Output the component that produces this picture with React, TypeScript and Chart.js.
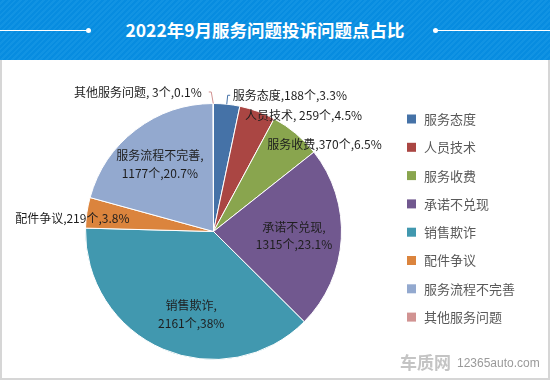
import React, { useEffect, useRef } from 'react';
import { Chart, registerables } from 'chart.js';

Chart.register(...registerables);

const title = '2022年9月服务问题投诉问题点占比';
const categories = ['服务态度', '人员技术', '服务收费', '承诺不兑现', '销售欺诈', '配件争议', '服务流程不完善', '其他服务问题'];
const counts = [188, 259, 370, 1315, 2161, 219, 1177, 3];
const percentLabels = ['3.3%', '4.5%', '6.5%', '23.1%', '38%', '3.8%', '20.7%', '0.1%'];
const colors = ['#4572A7', '#AA4643', '#89A54E', '#71588F', '#4198AF', '#DB843D', '#93A9CF', '#D19392'];

type Placement = {
  kind: 'inside' | 'outside' | 'leader';
  f: number;
  dx: number;
  dy: number;
  align: CanvasTextAlign;
  sep: string;
  gap: number;
};

const placements: Placement[] = [
  { kind: 'leader', f: 1.07, dx: 0, dy: 0, align: 'left', sep: ',', gap: 2.5 },
  { kind: 'outside', f: 1, dx: -12.4, dy: 4.2, align: 'left', sep: ', ', gap: 0 },
  { kind: 'outside', f: 1, dx: -28.4, dy: 11.2, align: 'left', sep: ',', gap: 0 },
  { kind: 'inside', f: 0.63, dx: 0, dy: 0, align: 'center', sep: ',', gap: 0 },
  { kind: 'inside', f: 0.67, dx: 11.5, dy: 4, align: 'center', sep: ',', gap: 0 },
  { kind: 'outside', f: 1, dx: 42.6, dy: 6.1, align: 'right', sep: ',', gap: 0 },
  { kind: 'inside', f: 0.67, dx: -1.6, dy: 1.3, align: 'center', sep: ',', gap: 0 },
  { kind: 'leader', f: 1.09, dx: -2, dy: 0, align: 'right', sep: ', ', gap: 7 },
];

const FONT = '"Noto Sans CJK SC", "Noto Sans", sans-serif';

const labelPlugin = {
  id: 'sliceLabels',
  afterDatasetsDraw(chart: any) {
    const ctx: CanvasRenderingContext2D = chart.ctx;
    const meta = chart.getDatasetMeta(0);
    ctx.save();
    ctx.font = `12px ${FONT}`;
    ctx.fillStyle = '#1e1e1e';
    ctx.textBaseline = 'middle';
    meta.data.forEach((arc: any, i: number) => {
      const p = placements[i];
      const { x, y, startAngle, endAngle, outerRadius } = arc.getProps(['x', 'y', 'startAngle', 'endAngle', 'outerRadius'], true);
      const mid = (startAngle + endAngle) / 2;
      const c = Math.cos(mid);
      const s = Math.sin(mid);
      if (p.kind === 'inside') {
        const px = x + c * outerRadius * p.f + p.dx;
        const py = y + s * outerRadius * p.f + p.dy;
        ctx.textAlign = 'center';
        ctx.fillText(categories[i] + ',', px, py - 8.75);
        ctx.fillText(`${counts[i]}个,${percentLabels[i]}`, px, py + 8.75);
      } else if (p.kind === 'outside') {
        const px = x + c * outerRadius * p.f + p.dx;
        const py = y + s * outerRadius * p.f + p.dy;
        ctx.textAlign = p.align;
        ctx.fillText(`${categories[i]}${p.sep}${counts[i]}个,${percentLabels[i]}`, px, py);
      } else {
        const sx = x + c * outerRadius;
        const sy = y + s * outerRadius;
        const ex = x + c * outerRadius * p.f + p.dx;
        const ey = y + s * outerRadius * p.f + p.dy;
        const dir = p.align === 'left' ? 1 : -1;
        const hx = ex + dir * 2.5;
        ctx.strokeStyle = colors[i];
        ctx.lineWidth = 1;
        ctx.beginPath();
        ctx.moveTo(sx, sy);
        ctx.lineTo(ex, ey);
        ctx.lineTo(hx, ey);
        ctx.stroke();
        ctx.textAlign = p.align;
        ctx.fillText(`${categories[i]}${p.sep}${counts[i]}个,${percentLabels[i]}`, hx + dir * p.gap, ey);
      }
    });
    ctx.restore();
  },
};

const legendPlugin = {
  id: 'sideLegend',
  afterDraw(chart: any) {
    const ctx: CanvasRenderingContext2D = chart.ctx;
    ctx.save();
    ctx.font = `13px ${FONT}`;
    ctx.textBaseline = 'middle';
    ctx.textAlign = 'left';
    categories.forEach((name, i) => {
      const cy = 59 + i * 28.3;
      ctx.fillStyle = colors[i];
      ctx.fillRect(407, cy - 4.5, 9, 9);
      ctx.fillStyle = '#595959';
      ctx.fillText(name, 424, cy);
    });
    // watermark
    ctx.font = `bold 17px ${FONT}`;
    ctx.fillStyle = '#c4c4c4';
    ctx.fillText('车质网', 400, 303);
    ctx.font = '12px "Liberation Sans", Arial, sans-serif';
    ctx.fillStyle = '#9a9a9a';
    ctx.fillText('12365auto.com', 457, 304);
    ctx.restore();
  },
};

export default function App() {
  const ref = useRef<HTMLCanvasElement | null>(null);

  useEffect(() => {
    if (!ref.current) return;
    const chart = new Chart(ref.current, {
      type: 'pie',
      data: {
        labels: categories,
        datasets: [
          {
            data: counts,
            backgroundColor: colors,
            borderColor: '#ffffff',
            borderWidth: 1,
          },
        ],
      },
      options: {
        responsive: false,
        animation: false,
        layout: { padding: { left: 85, right: 208, top: 43, bottom: 20 } },
        plugins: {
          legend: { display: false },
          tooltip: { enabled: false },
          title: { display: false },
        },
      },
      plugins: [labelPlugin, legendPlugin],
    });
    return () => chart.destroy();
  }, []);

  return (
    <div
      style={{
        position: 'absolute',
        left: 0,
        top: 0,
        width: 550,
        height: 380,
        background: '#ffffff',
        overflow: 'hidden',
      }}
    >
      <div
        style={{
          position: 'absolute',
          left: 0,
          top: 0,
          width: 550,
          height: 60,
          background: 'repeating-linear-gradient(135deg, #078ce0 0px, #078ce0 2px, #1193e3 2px, #1193e3 4px)',
        }}
      >
        <div style={{ position: 'absolute', left: 0, top: 29.5, width: 88, height: 1.5, background: '#fff' }} />
        <div style={{ position: 'absolute', left: 85.5, top: 27.5, width: 5, height: 5, borderRadius: '50%', background: '#fff' }} />
        <div style={{ position: 'absolute', left: 432.5, top: 27.5, width: 5, height: 5, borderRadius: '50%', background: '#fff' }} />
        <div style={{ position: 'absolute', left: 435, top: 29.5, width: 115, height: 1.5, background: '#fff' }} />
        <div
          style={{
            position: 'absolute',
            left: 0,
            top: 0,
            width: 530,
            height: 60,
            lineHeight: '60px',
            textAlign: 'center',
            color: '#ffffff',
            fontWeight: 'bold',
            fontSize: 17.5,
            fontFamily: FONT,
          }}
        >
          {title}
        </div>
      </div>
      <div style={{ position: 'absolute', left: 0, top: 60, width: 550, height: 320 }}>
        <canvas ref={ref} width={550} height={320} style={{ width: 550, height: 320, display: 'block' }} />
      </div>
      <div
        style={{
          position: 'absolute',
          left: 0,
          top: 60,
          width: 550,
          height: 320,
          boxSizing: 'border-box',
          borderLeft: '2px solid #d6d6d6',
          borderRight: '2px solid #d6d6d6',
          borderBottom: '2px solid #d6d6d6',
          pointerEvents: 'none',
        }}
      />
    </div>
  );
}
